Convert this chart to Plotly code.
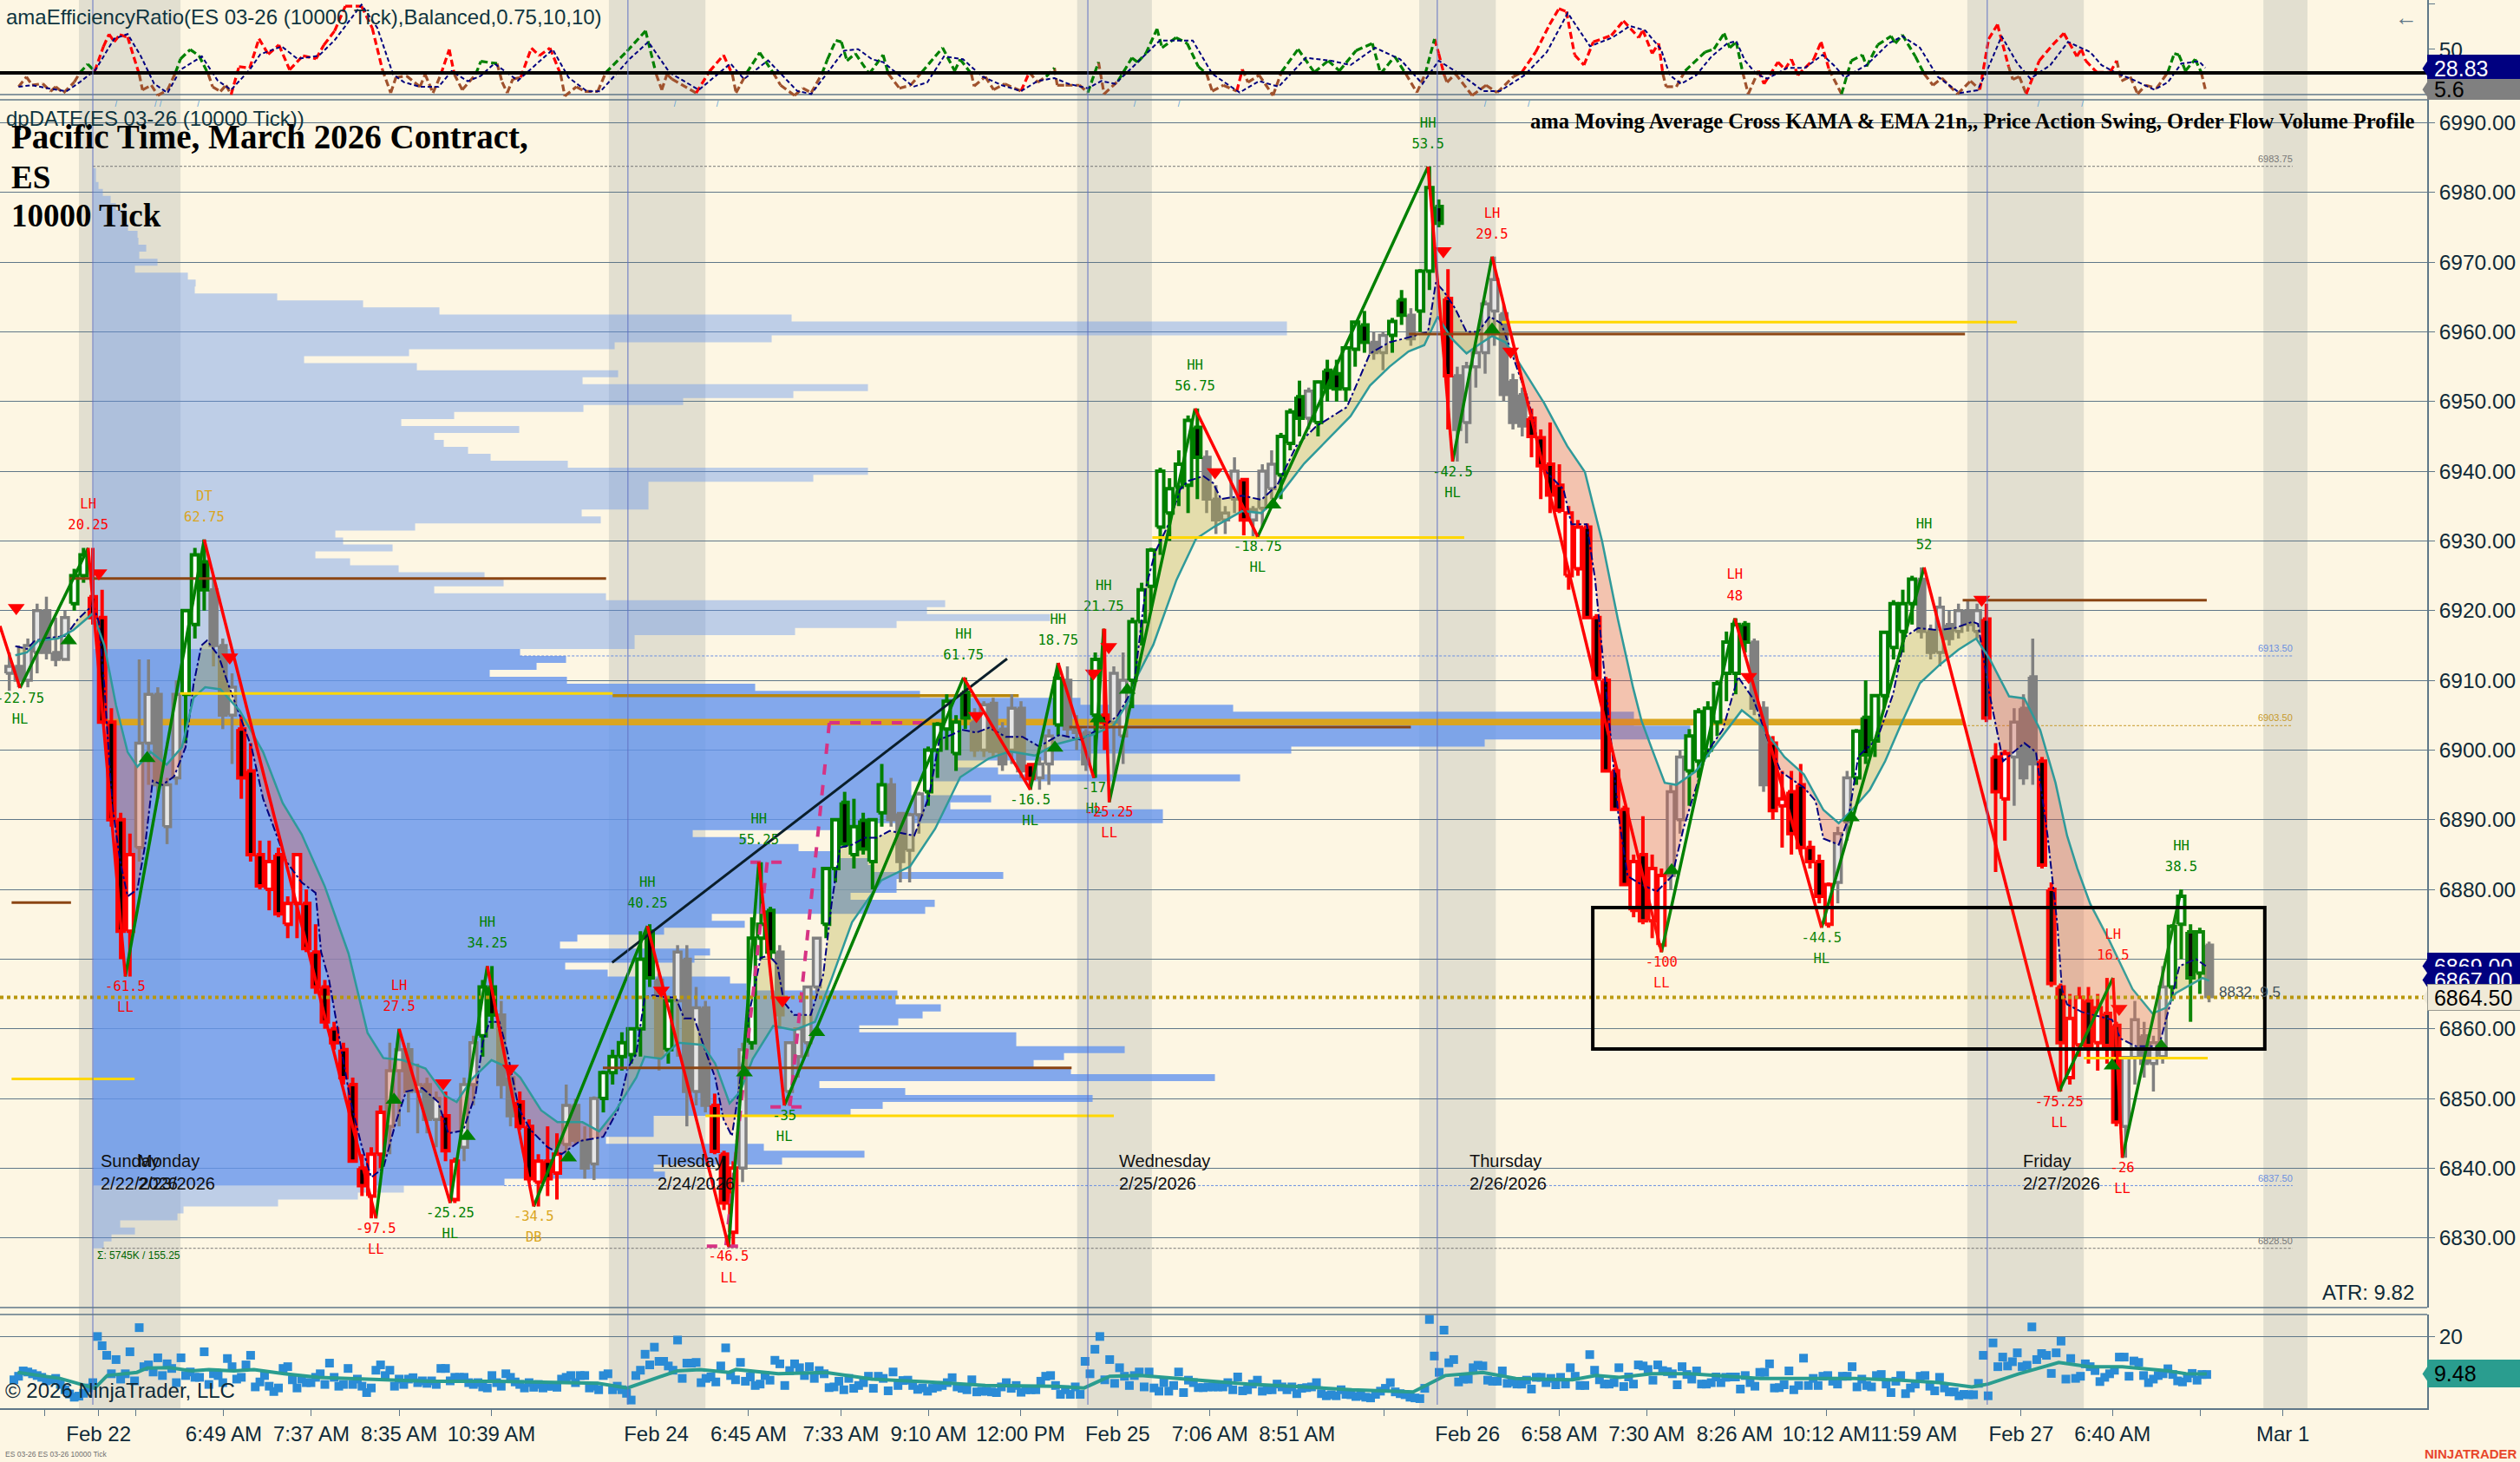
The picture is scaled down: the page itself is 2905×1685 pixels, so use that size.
import numpy as np
import plotly.graph_objects as go

# bar number, open, high, low, close (every second bar)
gray_rows = [
    (2,6911,6914,6908.5,6912),(4,6912,6915,6909,6910),(6,6910,6916,6909,6915),(8,6914,6921,6911,6920),
    (10,6920,6922,6913,6914),(12,6914,6919,6912,6913),(14,6913,6920,6913,6919),
    (30,6886,6913,6884,6901),(32,6901,6913,6895,6908),(34,6908,6909,6893,6895),(36,6889,6896,6886.5,6895),(38,6896,6910,6895,6908),
    (46,6923,6925,6912,6915),(48,6915,6916,6903,6905),(50,6905,6911,6898,6909),
    (84,6846,6858,6842,6854),(86,6854,6860,6846,6857),(88,6857,6858,6848,6851),(90,6851,6855,6845,6852),(92,6852,6853,6845,6847),(94,6847,6851,6843,6850),
    (100,6843,6853,6841,6852),(102,6852,6859,6849,6858),(108,6862,6864,6850,6852),(110,6853,6854,6846,6847.5),
    (122,6843.4,6852,6841,6849),(124,6849,6850,6843.5,6844),(126,6844,6846,6838.5,6840),(128,6840.6,6850.3,6838.3,6850),
    (142,6867,6868,6854,6856),(146,6864,6872,6856,6871),(148,6870,6872,6846,6851),(150,6851,6866,6849,6863),(152,6863,6864,6848,6849),
    (160,6840,6858,6838,6857),(168,6871,6872,6860,6862),(170,6851,6858,6849,6858),(172,6856,6860,6853,6860),(174,6858,6866,6856,6866),(176,6866,6873,6865,6873),
    (192,6895,6896,6889,6890),(194,6890.9,6891,6881,6884),(196,6885.6,6891,6881,6890.7),(198,6890.7,6894,6888,6893.7),
    (210,6904,6906,6899,6900),(212,6900,6907,6899,6906.5),(214,6906.7,6907.5,6899,6899.8),(216,6903,6904,6897,6898),(218,6900,6908,6898,6906),(220,6906,6907,6896,6897),
    (224,6896,6899,6894.3,6898),(226,6898,6903,6895,6902),(230,6910,6912,6902,6903),(232,6903,6905,6900,6902.5),(234,6902.5,6903,6897,6898),
    (240,6904,6912,6896,6911),(242,6902,6914,6898,6910),(260,6942,6943,6934,6936),(262,6936,6938,6931,6933),(264,6933,6935,6931,6934),(266,6936,6942,6934,6940),
    (270,6933,6935,6930.6,6934.5),(272,6934.7,6941,6932,6940),(274,6937.5,6943,6936,6941),(282,6947.6,6952,6946,6951.5),
    (296,6958.5,6960,6956,6957),(298,6957,6960,6954.5,6959.5),(304,6962.4,6963.4,6958,6959),
    (314,6953.7,6955,6941.4,6946),(316,6947,6955.7,6944,6955),(318,6955,6958,6952,6957),(320,6957,6964.5,6954,6964),(322,6963,6970.8,6958,6967.5),
    (324,6962.6,6964,6950,6951),(326,6953,6954,6946,6947),(328,6951,6952,6945,6946.5),
    (360,6882,6895,6880,6894),(362,6890,6900,6888,6899),(378,6915.5,6916,6905,6906),(380,6906,6907,6894,6895),(396,6881,6889,6878,6888),(398,6889.7,6897,6887,6896),
    (414,6924.5,6926.2,6916,6917),(416,6917,6918,6913,6914),(418,6914,6922,6912,6920.5),(420,6918,6920,6915,6916),(422,6917,6921,6916,6920),(424,6920,6921.5,6917,6918),(426,6917,6921,6916,6920),
    (434,6899,6906,6892,6904),(436,6906,6908,6895,6896),(438,6910.5,6916,6895,6898),
    (458,6846,6856,6841.5,6855.9),(460,6855.9,6864,6852,6861.3),(462,6859,6861,6853,6855),(464,6855,6859,6851,6858),(466,6856,6869,6855,6866),(476,6872,6872.5,6863.8,6864.6),
]
green_rows = [
    (16,6921,6926,6920,6925),(18,6925,6929,6924,6928),(40,6908,6920,6901,6920),(42,6918,6929,6916,6928),(44,6927,6930.2,6920,6923),
    (104,6859,6867,6856,6866),(106,6866,6869,6860,6862),
    (130,6850,6854,6848,6853.7),(132,6853.7,6857,6852,6856),(134,6856,6859.5,6854,6858),(136,6856.3,6860,6855,6860),(138,6860,6874,6856,6870),(140,6874,6875,6866,6867.3),(144,6857,6864.7,6855,6864),
    (162,6858,6876,6857,6873),(164,6873,6883.9,6870,6875),(166,6877,6877.5,6870,6871),
    (178,6875,6883,6873,6883),(180,6883,6890,6881,6890),(182,6892.5,6894,6886,6886.5),(184,6885,6893,6883,6889),(186,6889.9,6891,6885,6885.8),(188,6884,6890,6880,6890),(190,6891,6898,6889,6895),
    (200,6894,6900.5,6892,6900),(202,6900,6904,6896,6903.7),(204,6903,6908,6900,6907),(206,6899.5,6905,6897,6904),(208,6908.3,6910.4,6903,6904.6),
    (228,6903.6,6912.5,6902,6910.3),(236,6905,6914,6896,6913),
    (244,6910,6919,6906,6918.4),(246,6918.4,6924,6915,6923),(248,6923.5,6929,6920,6928.7),(250,6932,6940.5,6928,6940),(252,6934,6939,6930,6937.5),(254,6937.7,6943,6935,6941),(256,6938,6948,6934,6947.3),(258,6946.3,6949,6936,6942),
    (276,6939.5,6945.5,6936,6945),(278,6944,6949,6943,6948.5),(280,6950.7,6953,6945,6947.6),(284,6947,6953,6945,6952.8),(286,6954.5,6956,6950,6952),(288,6954,6956,6950,6951.8),
    (290,6951.8,6958,6950,6957.7),(292,6957.5,6961.5,6955,6961.4),(294,6961,6963,6957,6958.5),(300,6959.5,6962,6957,6961.5),(302,6964.6,6966,6961,6962.4),
    (306,6963,6969,6960,6968.7),(308,6968.7,6983.7,6966,6980.7),(310,6978,6979,6975,6975.6),
    (364,6897,6903,6892,6902),(366,6898.4,6906,6896,6905.5),(368,6900,6907,6899,6906),(370,6904,6910,6902,6909.5),(372,6911,6917,6907,6915.5),(374,6911,6918.9,6908,6918),(376,6918,6918.5,6914,6915.5),
    (400,6896,6903,6895,6902.7),(402,6904.7,6910,6898,6899.3),(404,6901.3,6908,6899,6907.8),(406,6907.8,6917,6906,6916.9),(408,6914.7,6921.5,6913,6921),(410,6917,6923,6914,6921),(412,6921,6925,6918,6924.5),
    (468,6866,6875,6864,6874.7),(470,6875,6880,6870,6879),(472,6873.9,6875,6861,6867.3),(474,6868,6874.5,6865,6873.9),
]
red_rows = [
    (20,6922,6929,6918,6919),(22,6919,6923,6904,6904),(24,6904,6906,6889,6890),(26,6890,6891,6870,6874),(28,6874,6888,6867.5,6885),
    (52,6903,6905,6893,6896),(54,6897,6901,6884,6885),(56,6885,6887,6880,6880.5),(58,6880,6887,6877,6884),(60,6885,6886,6876,6876.5),(62,6875,6879,6873,6878),(64,6878,6885,6873,6885),(66,6878,6880,6871,6871.5),
    (68,6871,6875,6865,6866),(70,6866,6867,6860,6861),(72,6860,6861,6857,6858),(74,6857,6858,6852,6853),(76,6852,6853,6841,6841),(78,6840,6842,6836,6837.5),(80,6836,6843,6832.8,6842),(82,6842,6849,6840,6848),
    (96,6847.5,6851,6841,6842.5),(98,6835.5,6841.5,6835,6841),
    (112,6849.5,6851,6845.5,6846),(114,6846,6847,6838,6838.5),(116,6838,6842,6834.5,6841),(118,6841,6846,6836,6838.5),(120,6839.3,6845,6835.5,6842),
    (154,6849,6850.7,6842,6842.4),(156,6842,6842.5,6834,6835),(158,6830.8,6841,6828.75,6840),(222,6897.9,6898,6894.3,6895.9),(238,6905,6917.4,6900,6904),(268,6938.8,6939,6930.8,6933),(312,6964.8,6969,6946,6953.7),
    (330,6947.6,6949,6942,6945),(332,6944.8,6946,6936,6940.8),(334,6941,6947,6934,6936.6),(336,6938,6941,6934,6934.4),(338,6925,6935,6923,6934),(340,6926,6933,6925,6932),(342,6932,6932.5,6919,6919),(344,6919,6919.5,6910.3,6910.3),
    (346,6910,6910.5,6897,6897),(348,6897,6897.5,6891.5,6891.5),(350,6891.5,6892,6880.7,6880.7),(352,6877,6885,6876,6884),(354,6885,6890.5,6875,6875.5),(356,6875.5,6885,6873,6883),(358,6872,6883,6871,6882),
    (382,6901,6902,6890,6891.3),(384,6892,6897,6886,6893),(386,6894,6897,6885,6888),(388,6895,6898,6885,6886),(390,6886,6887,6883,6884),(392,6884,6885,6878,6879),(394,6875,6881,6874.5,6880.7),
    (428,6918.8,6921,6904,6904.6),(430,6899,6901,6882.5,6894),(432,6893,6900,6887,6899.5),
    (440,6898.4,6899,6883,6883.5),(442,6880,6881,6866,6866.5),(444,6866,6866.5,6851,6858),(446,6853,6865,6852,6861.5),(448,6857.7,6866,6856,6864.5),(450,6864,6866,6855,6857.6),(452,6858,6865,6854,6863),(454,6862.2,6867.3,6855,6857.6),(456,6860.5,6861,6846,6846.6),
]

kama_bars = [3.3,5.8,7.5,10.8,14.2,16.7,20,21.3,22.5,24.2,25.9,27.5,29.6,31.3,32.9,35,37.5,40,41.7,43.4,44.6,47.1,49.2,51.7,54.2,56.7,58.4,61.7,65,68,69.2,70.9,72.6,74.2,75.5,78,80,82.6,85.3,87.5,91,94.4,96.6,99.8,102.5,104,105.5,107.6,109.2,111.8,114.3,118,121,125,130,133.1,135.3,137.1,138.9,140.7,143.4,145.6,147.4,149.6,151.9,154.1,155.9,157.7,159,161.3,163.9,165.7,167.5,168.9,171.1,174.7,177.4,179.2,181,183.6,186.3,189,191.7,194.8,197,200.2,202.4,205.1,207.3,210.4,213.1,216.7,220.3,223.9,228.3,232.8,237.3,240.8,243.1,244.3,246.8,248.9,251.8,254.3,256,259.3,261.4,263.1,267.7,271.8,275.2,279.3,283.5,290.2,295.2,299.4,303.5,307.7,309.4,311,313.5,316,318.5,321,323.5,325.6,329.4,332.7,336.9,338.6,341.9,343.7,345.3,347,348.7,350.7,353.7,357,360.3,362.8,367.8,371.2,374.5,377.8,381.2,383.7,388.7,391.2,392.9,396.2,398.3,400.4,404.5,407.9,410.4,413.3,417.5,421.2,425,426.2,428.7,431.6,436.2,438.7,441.2,443.3,444.3,445.4,448.6,455.1,456.9,460.2,465.2,467.4,469.6,473.2,475.3]
kama_values = [6914.9,6914.5,6915.7,6916.1,6916.4,6918.7,6920.8,6918.4,6909,6892,6884,6879,6880,6886.5,6895.6,6895,6896.2,6900.4,6909.4,6915,6915.7,6913.5,6909.4,6905,6900.4,6893,6890,6884,6881,6879.5,6871,6867,6860.6,6854.5,6849.7,6843,6838.7,6840,6846.6,6851,6851.5,6849.5,6845,6845.4,6850.7,6858,6861,6861,6857,6848.5,6845.5,6843,6842,6843.9,6844.5,6848.3,6854.4,6856.4,6864.5,6864.8,6864.5,6864.5,6861.5,6861.5,6857,6853,6847,6844.6,6850.3,6861.8,6870.2,6870.5,6869.2,6863.8,6862,6862,6867.8,6878,6886,6886.4,6887.4,6887.4,6888.4,6888,6887.7,6893.4,6901.5,6902.2,6902.9,6902.5,6903.2,6901.9,6901.9,6900.5,6902.2,6901.5,6903.2,6904.9,6907.6,6909,6923,6928.4,6932.4,6937.4,6938.6,6939.3,6938.3,6936,6936.5,6935.9,6938,6943.6,6946.4,6949.2,6956.9,6958.5,6959.2,6960,6967.1,6965.9,6963.4,6960,6960,6962.2,6961.2,6957.2,6950,6940.2,6937.4,6932.4,6932.4,6924.5,6913.7,6902.3,6890.8,6881.9,6880.7,6879.7,6881.9,6888.9,6899.7,6902.9,6910.5,6907.3,6901,6896.9,6894.6,6892.7,6887.3,6886.4,6890.2,6899.1,6901.6,6908,6916.2,6917.5,6917.2,6917.5,6918.4,6918.1,6908,6898.4,6901,6899.7,6887.7,6875,6865.7,6863.5,6862.4,6861.3,6858.6,6857.5,6857.5,6863,6869,6870,6869]
ema_bars = [3.3,5.8,8.3,12.5,15.8,20,22.5,25,27.5,29.6,32.5,35.9,39.2,41.7,44.2,47.5,51.7,56.7,60.9,65,70,75.1,79.2,82.6,86.7,91.7,95.9,98.4,101.7,105.9,110,112.1,116.6,120.1,125.5,129.1,132.7,137.1,138.9,142.5,146.1,151.4,154.1,157.2,159.5,162.2,166.6,171.1,175.6,179.2,183.6,189.9,196.1,201.5,206.9,213.1,217.6,223,227.4,235.5,239.9,243.1,245.2,248.5,253.5,257.7,261.8,267.7,271.8,276,281,286.9,291,295.2,299.4,303.5,306.9,309.8,312.7,316,318.5,321.5,324.4,326.9,332.7,337.7,341.5,345.2,348.6,351.9,353.7,356.2,358.7,361.2,365.3,370.3,375.3,379.5,384.5,388.7,392.9,396.2,399.1,402.9,406.2,409.5,413.7,417.9,422,425.8,428.7,432.9,436.2,439.6,442.9,445.4,447.6,450.4,454.4,459.5,463.8,466.7,468.8,471.7,474.6,476]
ema_values = [6913.6,6914,6915.7,6916,6917.2,6919.6,6915,6906.4,6899.7,6897.6,6899.7,6897.9,6900.4,6907.5,6909,6908.7,6905.6,6899.7,6892.4,6887.9,6880.4,6870.8,6859.4,6855.8,6855.5,6854.3,6850.4,6849.5,6852.8,6855.5,6854.3,6853,6848.3,6846.6,6846.6,6845.3,6848.3,6853,6856,6855.7,6858,6857.7,6855,6849.3,6851,6855.7,6860.4,6859.8,6861,6867.2,6875.3,6881.3,6883.3,6888.7,6896.1,6898.8,6899.8,6899.2,6900.8,6902.2,6903.5,6906.9,6910.8,6915.1,6924.4,6930.3,6932.1,6934.3,6934,6936.8,6941.1,6945.1,6947.9,6952.3,6955,6957.2,6958.1,6962.2,6959.1,6956.9,6958.1,6959.4,6958.5,6956,6949.8,6943.6,6939.9,6930,6918.8,6908.9,6904.2,6899.7,6895.3,6895,6896.9,6901.3,6905.7,6903.5,6899,6896.5,6891.4,6889.5,6891.4,6894.3,6898.4,6903.5,6909.6,6912.2,6914.4,6916,6913.1,6907.7,6907.4,6902.9,6895.3,6887.7,6883,6877.9,6872.8,6865.7,6862.2,6863,6865.1,6866.2,6867.3,6866.9]

swing_bars = [0,4.3,19,27,44,81,86,97,105,115,139.5,157,163.5,169,207.6,222,228,235.7,237.8,239,257.5,271,307.7,313,321.5,358,373.8,392.5,414.6,443.7,455.3,457.3,470]
swing_prices = [6917.8,6908.9,6929,6867.5,6930.2,6832.8,6860,6835,6869,6834.5,6874.75,6828.75,6883.9,6849,6910.4,6894.3,6912.5,6896,6917.4,6892.5,6949,6930.6,6983.7,6941.4,6970.8,6871,6918.9,6874.5,6926.2,6851,6867.3,6841.5,6880]
swing_tags = ['','HL','LH','LL','DT','LL','LH','HL','HH','DB','HH','LL','HH','HL','HH','HL','HH','HL','HH','LL','HH','HL','HH','HL','LH','LL','LH','HL','HH','LL','LH','LL','HH']
swing_sizes = ['','-22.75','20.25','-61.5','62.75','-97.5','27.5','-25.25','34.25','-34.5','40.25','-46.5','55.25','-35','61.75','-16.5','18.75','-17','21.75','-25.25','56.75','-18.75','53.5','-42.5','29.5','-100','48','-44.5','52','-75.25','16.5','-26','38.5']

down_arrow_bars = [3.5,21.3,49.5,95.5,110,142.5,168.6,210.4,235.6,238.9,261.8,311,325.5,376.8,427,456.6]
down_arrow_prices = [6920.4,6925.4,6913.3,6852.2,6854.3,6865.5,6864.1,6904.9,6911,6914.8,6939.9,6971.6,6957.2,6910.5,6921.6,6862.9]
up_arrow_bars = [14.8,31.7,84.9,100.7,122.5,160.4,176,227.3,236.6,242.9,274.3,321.5,360.2,398.9,455.1,465.7]
up_arrow_prices = [6915.7,6898.8,6849.8,6844.6,6841.5,6853.7,6859.5,6900.3,6904.5,6908.6,6935.2,6960.3,6882.7,6890.3,6854.7,6857.5]

# volume profile, top row 6983 going down one point a row
profile_top = 6983
profile_volume = [3,3,6,11,20,26,37,37,40,51,52,61,53,74,48,109,118,117,212,311,399,805,1376,1376,782,601,364,243,373,605,564,893,807,680,565,416,355,491,393,404,432,458,547,893,830,640,640,640,640,563,585,371,279,288,345,256,296,352,451,473,393,591,982,961,1103,926,809,624,624,
                  492,545,511,457,546,763,953,1138,1314,1776,1776,1841,1841,1604,1381,1138,993,1043,1322,943,943,1035,988,1233,1233,893,691,753,813,853,893,898,1049,926,926,873,970,959,713,751,658,558,538,711,693,544,593,734,753,927,925,977,956,928,883,1064,1064,1189,1119,1084,1127,1293,837,936,1152,910,873,646,646,646,591,773,889,794,646,659,474,
                  358,305,213,104,97,31,48,21,12]

brown_prices = [6924.6,6878.1,6854.4,6903.3,6959.7,6921.5]
brown_from = [15,2.5,129.9,230.4,303.6,422.9]
brown_to = [130.6,15.3,230.9,304,423.4,475.5]
yellow_prices = [6852.8,6908.1,6930.5,6961.4,6847.5,6855.8]
yellow_from = [2.5,38.8,248.3,323.6,152,449]
yellow_to = [29,132,315.5,434.6,240,475.7]

thin_levels = [6983.75,6913.5,6903.5,6837.5,6828.5]
thin_labels = ['6983.75','6913.50','6903.50','6837.50','6828.50']
thin_from = [20,112,423,108.6,22]
thin_colors = ['#777777','#6a8fe0','#c79a2a','#6a8fe0','#777777']

fib_bars = [178.7,198.8,None,178.7,170.2,None,166,173.3,None,161.7,169.3,None,165.3,156.4,None,152.3,159.9]
fib_prices = [6903.9,6903.9,None,6903.9,6848.8,None,6848.8,6848.8,None,6883.9,6883.9,None,6883.9,6828.8,None,6828.8,6828.8]
trend_bars = [131.9,217]
trend_prices = [6869.5,6913.1]

# efficiency ratio panel: bar, value, colour state (g up, r down, b below the line)
er_rows = [
    (4,8.6,'b'),(5.7,19.6,'b'),(6.9,10.4,'b'),(9.2,12.1,'b'),(10.9,3.5,'b'),(12,8.6,'b'),(13.7,1.8,'b'),(16,13.8,'b'),(17.2,24.1,'b'),(18.9,33.7,'g'),(20.4,25.8,'g'),(22.3,53.3,'r'),(23.5,67,'r'),(24.6,58.4,'r'),(25.8,66.3,'r'),(27.5,63.6,'r'),(30,22.4,'r'),(30.7,5.2,'b'),(32.6,10.4,'b'),(34,-1,'b'),(36.1,5.2,'b'),(37.8,24.1,'b'),(38.9,39.6,'g'),(41,49.9,'g'),(42.9,43,'g'),(44.9,22.4,'g'),(45.8,8.6,'b'),(47.5,3.5,'b'),(48.7,10.4,'b'),(49.8,0,'b'),(51.5,31,'r'),(53.8,29.3,'r'),(55.8,61.9,'r'),(57.8,44.7,'r'),(60.1,55,'r'),(62.4,27.5,'r'),(65.3,43,'r'),(68.1,39.6,'r'),(69.8,55,'r'),(72.1,70.5,'r'),(74.4,97.9,'r'),(77.9,97.9,'r'),(80.2,73.9,'r'),(82.4,27.5,'r'),(84.2,1.8,'b'),(85.3,19,'b'),(87.6,20.7,'b'),(90.5,8.6,'b'),(91.6,22.4,'b'),(93.3,1.8,'b'),(95,22.4,'b'),(96.8,49.9,'r'),(97.9,22.4,'r'),(99.6,5.2,'b'),(102.5,22.4,'b'),(103.6,36.8,'g'),(107.1,34.4,'g'),(108.2,13.8,'b'),(109.3,1.8,'b'),(110.5,17.2,'b'),(112.2,19,'b'),(114.5,51.6,'r'),(116.2,43,'r'),(118.5,51.6,'r'),(120.8,22.4,'r'),(121.7,-1.7,'b'),(124.2,8.6,'b'),(126,3.5,'b'),(128.8,3.5,'b'),(130.5,24.1,'b'),(135.1,48.1,'g'),(139.1,70.5,'g'),(141.4,22.4,'g'),(142.6,5.2,'b'),(143.7,22.4,'b'),(144.8,17.2,'b'),(150,1.8,'b'),(152.9,25.8,'r'),(155.9,43.7,'r'),(157.8,22.4,'r'),(158.6,1.8,'b'),(160.9,24.1,'b'),(163.7,46.4,'g'),(166.6,24.1,'g'),(168.2,10.3,'b'),(171.2,-1,'b'),(173,7,'b'),(174.8,2,'b'),(177.1,23,'b'),(178.3,39,'g'),(180.1,60,'g'),(181.3,58.3,'g'),(182.5,37.5,'g'),(184.3,45.5,'g'),(187.3,23,'g'),(190.3,43.9,'g'),(191.4,23,'g'),(193.8,7,'b'),(196.2,10.3,'b'),(198.6,24.7,'b'),(203.1,51.9,'g'),(205.7,26.3,'g'),(206.9,39,'g'),(209.3,23,'g'),(209.9,9.3,'b'),(212.3,19.9,'b'),(214.1,5.4,'b'),(216.5,11.9,'b'),(220,3.8,'b'),(221.8,24.7,'r'),(223.6,13.5,'b'),(225.4,19.9,'b'),(227.2,29.5,'g'),(227.8,10.3,'b'),(229.6,10.3,'b'),(232.6,10.3,'b'),(234.4,2.2,'b'),(236.7,35.9,'g'),(237.9,0.6,'b'),(240.9,15,'b'),(243.9,40.7,'g'),(245.1,35.9,'g'),(246.9,45.5,'g'),(249.3,72.7,'g'),(250.4,51.9,'g'),(253.4,63.1,'g'),(255.8,56.7,'g'),(258.2,31.1,'g'),(260,23,'g'),(261.2,3.8,'b'),(263.6,10.3,'b'),(266.5,3.8,'b'),(267.7,27.9,'r'),(268.9,13.5,'b'),(271.3,21.5,'b'),(274.3,-1,'b'),(276.1,24.7,'b'),(279.7,50.3,'g'),(283.2,24.7,'g'),(286.2,37.5,'g'),(288.6,26.3,'g'),(292.2,48.7,'g'),(295.7,56.7,'g'),(297.5,23,'g'),(300.5,42.3,'g'),(302.9,23,'g'),(305.3,2.2,'b'),(307.1,23,'b'),(309.1,61.5,'g'),(310,45.5,'r'),(311.2,21.5,'r'),(311.8,13.5,'b'),(313.6,23,'b'),(317.2,-1,'b'),(320.2,10.3,'b'),(322.6,2.2,'b'),(326.1,19.9,'b'),(327.9,24.7,'b'),(330.9,47.1,'r'),(333.9,77.6,'r'),(335.9,95.2,'r'),(337.5,92,'r'),(339.3,43.9,'r'),(341.3,32.7,'r'),(343.3,58.3,'r'),(347.2,65.5,'r'),(349.8,81.7,'r'),(353.1,63.1,'r'),(354,71.2,'r'),(356,45.5,'r'),(357.4,56.7,'r'),(358.3,23,'r'),(359,8.7,'b'),(361.2,8.7,'b'),(363.1,26.3,'b'),(367.4,47.1,'g'),(369.3,50.3,'g'),(371.5,67.9,'g'),(372.7,51.9,'g'),(374.1,58.3,'g'),(375.5,24.7,'g'),(376.7,0.6,'b'),(378.9,26.3,'b'),(380.1,11.9,'r'),(383.1,35.9,'r'),(384.6,27.9,'r'),(386,39.1,'r'),(387.4,21.5,'r'),(390.8,39.1,'r'),(392.4,58.3,'r'),(394.1,27.9,'r'),(396.8,0.6,'b'),(398.9,37.5,'g'),(401.3,43.9,'g'),(402.2,31.1,'g'),(404.6,55.1,'g'),(407.5,64.7,'g'),(408.4,56.7,'g'),(409.9,66.3,'g'),(412.7,42.3,'g'),(414.6,23,'g'),(416.5,10.3,'b'),(418.4,18.3,'b'),(421.8,0.6,'b'),(424.6,15,'b'),(426.6,5.4,'b'),(428.5,61.5,'r'),(430.4,77.6,'r'),(432.8,31.1,'r'),(433.7,16.7,'b'),(435.1,19.9,'b'),(436.6,0.6,'b'),(439.4,37.5,'r'),(442.3,55.1,'r'),(444.7,67.9,'r'),(447.5,42.3,'r'),(448.5,50.3,'r'),(449.4,37.5,'r'),(451.8,24.7,'r'),(454.7,24.7,'r'),(456.1,37.5,'r'),(457.1,15,'b'),(459,19.9,'b'),(460.6,0.6,'b'),(462.3,10.3,'b'),(464.7,7,'b'),(467.1,24.7,'b'),(468.5,45.5,'g'),(469.5,43.9,'g'),(470.9,26.3,'g'),(473,39.1,'g'),(474.3,24.7,'g'),(475.2,5.4,'b'),
]
er_slow_bars = [4,6.9,10.3,14.3,17.2,20.6,24.6,27.5,30.3,33.2,36.1,38.9,43.5,46.9,49.8,53.8,56.1,60.7,64.1,68.7,72.1,77.9,81.3,84.7,87,90.5,94.5,97.3,100.8,103.6,106.5,111.6,119.1,122.5,126.5,129.4,135.7,139.7,144.3,150.6,157.4,160.3,165.5,171.8,174.8,178.3,181.9,184.9,187.9,190.3,192.6,196.8,199.8,203.4,207.5,211.7,215.9,220,223.6,227.2,230.2,234.4,237.3,240.3,244.5,249.9,257,261.2,267.1,271.3,275.5,281.4,286.8,291,296.3,301.7,306.5,310,315.4,319.6,323.2,328.5,333.3,337.8,342.6,347.4,351.2,354.5,357.9,359.8,362.2,365.5,368.8,372.2,374.1,376,378.4,380.8,385.1,388.9,392.7,395.1,397.5,402.2,407,409.9,413.7,417.5,422.3,426.1,428,431.3,434.7,437.5,441.8,445.6,450.4,452.8,455.7,459.5,464.2,467.1,470,473.8,475.2]
er_slow_values = [8.6,10.4,7,3.5,13.8,27.5,61.9,67,43,12.1,1.8,27.5,42.3,15.5,5.2,27.5,44.7,53.3,39.6,43,60.2,99.6,73.9,22.4,13.8,8.6,8.6,25.8,14.8,20.7,34.4,15.5,49.9,19,3.5,3.5,39.6,58.4,24.1,5.2,34.4,17.2,37.8,3.9,0.6,24.7,48.7,50.3,39.1,35.9,26.3,8.7,13.5,42.3,39.1,19.9,10.3,3.8,15,18.3,11.9,7,15,11.9,32.7,59.9,59.9,23,2.2,15,8.7,40.7,37.5,32.7,51.9,39.1,11.9,37.5,19.9,3.8,3.8,21.5,47.1,90.4,53.5,63.1,76,71.1,50.3,21.5,11.9,21.5,42.3,56.7,59.3,37.5,23,17.6,29.5,29.5,43.9,32.7,18.9,32.7,56.7,64.7,51.9,19.9,1.6,4.8,24.7,64.7,34.3,17.6,32.7,58.3,47.1,32.7,24.7,16.7,5.4,13.5,34.3,36.9,29.5]
er_threshold = 24
er_floor = 0

# ATR dots, one a bar; each block gives the bars it runs between
atr_span_a = (3, 149)
atr_a = [7.8,8.8,10.3,10,9.5,9,8.5,7.5,7.8,8.2,6.5,5,3.8,2.9,3.2,4,5.5,7,20,17.4,14.7,9.5,13.5,8,9.5,15.7,7.5,22.5,11.5,12,10,14,9,12.3,11,7,14,9,10,8.5,8.5,15.7,6.5,9.5,9,7,13.8,11.5,8,8.5,12,14.7,5.8,7.2,9,6,4.5,5.5,11,11.5,7.8,5.5,8,7,7,8.5,9.5,6.5,12.5,8.5,6,6.5,11,6.5,8,6,4.2,5.5,10.5,12,9,10.5,6,8,6.5,8,8.4,7,7.5,6.8,7.5,6.5,11,11,7.5,8.5,8.5,8.5,7,6.5,7,5.8,5.5,9,7,6,9.5,8.5,7.2,6.5,5.5,7,5.7,6.5,5.5,6,6,5.7,8,8.5,9,7,9,9,5.5,6,5,9,9.5,5,6,5,4,2.1,9,10.5,15,12,17,13,13,11.7,10.5,19,8.2,12.5,12.5]
atr_span_b = (150, 307)
atr_b = [12.7,7,8.2,8.6,7.2,11.7,16.8,9,7.8,12.7,7.4,8.6,6.2,6.6,9,7.7,13.3,12.3,6.2,10.4,12.3,11.2,9,11.5,8.2,10.4,9.5,5.6,5.8,7.4,5,8.2,5.4,6.2,7,8.8,5.4,8.8,8.2,4.7,10,6.2,7.6,7.7,6.2,5.1,5.5,4.6,5.4,5.8,6.2,7,8.4,5.8,5.4,5,7.8,4.4,4.6,4.6,4.4,4.2,5.8,7,5.4,6.2,4.3,5,5,5,7.4,8.8,9,6.2,3.7,5,3.7,5.8,3.7,13,9.5,16.4,20,7.8,13.5,6.8,11.2,8.8,6.2,9,10,5.8,10,5.5,4.6,7,4.6,6.2,10,4.2,7.7,7,5.6,5.6,5.8,5.8,5.8,5.8,7,5,8.6,4.7,5,6.6,7.7,4.6,5,5,6.6,5.8,5,5.8,3.9,5.4,5.6,5.8,7,3.9,3.3,3.6,3.3,5,3.7,3.6,3.1,3.3,2.9,2.7,3.7,4.6,5.4,7,4.4,3.9,3.6,2.9,2.7,2.5,5.4]
atr_span_c = (308, 475.5)
atr_c = [24.8,14.5,9.9,21.8,12.6,13.5,7.2,8,8,11.2,11.9,11.7,7.7,7.4,7.4,10.3,6.8,7.2,6.6,6.6,7.7,5.2,8.5,8.5,7,8.2,6.4,8.5,6.6,11.2,8.8,6.2,6.2,14.9,10.5,7.8,6.6,6.6,7,11.2,5.9,8.6,6.6,12,11.7,10.7,7.7,12,10.4,10.1,9.5,6.4,11.5,9.3,8,10.3,6.6,6.6,7,8.6,7,8.5,8.6,8.6,5.2,9,7,6,9.9,9.9,12.3,5.5,5.6,6.4,10.3,5,6.2,13.9,6.2,8.2,6.2,8.8,9,7.4,6.6,8.8,8.8,11.5,5.8,8,6.2,5.8,9,9.3,6.6,4.2,7.4,9,3.9,5.5,6.6,8.8,9,6,4.7,8.5,5.5,4.4,4.4,3.3,3.7,3.6,3.6,6.8,14.7,3.3,18.2,11.5,14.2,11.7,12.9,15.4,11.5,11.9,22.7,13.5,15.2,14.7,9.6,15.4,18.7,8,13.8,8.2,8.8,12.3,11.5,10.4,7.3,8.5,9.5,10.5,14.2,14.2,8.8,13.1,12.7,9,7,8,9,9.5,10.9,9.3,7.5,7.2,8.3,9.6,7.7,9.3,9.3]
atr_avg_bars = [3.8,8.6,12.9,17.2,20.4,23.1,26.8,29.5,31.7,36.5,41.3,45,50.4,54.7,61.2,68.7,75.1,83.7,92.3,107.3,118,128.8,135.2,139.5,145.9,150.8,157.1,158.6,167.7,177.9,188,200.1,212.3,227.5,233.6,239.1,245.7,253.8,269,281.2,291.3,304.5,308.3,311.4,319.5,326.6,338.8,343.9,348.9,356,364.1,379.3,389.4,399.6,409.7,417.8,424.9,428.4,435,443.6,450.2,457.3,466.7,471,475.5]
atr_avg_values = [9.9,9,8.2,6.6,5.4,9,9.6,9.9,11.1,11.2,10.3,10.7,10.3,10.7,9.5,8.5,8.2,7.8,7.4,7.4,7,6.8,5.5,7.4,10.3,10.7,9.9,10.7,9.5,9.9,8,7.2,6.2,6,5.5,8.8,9,8.2,6.6,5.8,5,4.4,7,9,9.9,8.2,7.8,9,8.5,9.5,9.5,8.2,8.2,8.2,7.7,7,5.8,6.6,9.5,12.7,11.5,11.5,10.4,9.5,9.48]

session_from = [17,131.2,232.1,305.8,423.9,487.7]
session_to = [38.9,152,248.2,322.3,449,497.2]
session_lines = [20,135.3,234.4,309.7,428.2]
box_bars = [343.2,488]
box_prices = [6857.1,6877.4]
tick_marks = [25,33.5,34.6,42.7,145.4,154.6,244.5,254,320,329.4,439.2,448.7]

x_ticks = [9.7,21.25,29.3,48.2,67.1,86,105.9,141.4,161.3,181.2,200.1,219.9,240.8,260.7,279.5,298.3,316.2,336,354.8,373.8,393.5,412.4,435.5,455.2,474.1,491.9]
x_labels = ['','Feb 22','','6:49 AM','7:37 AM','8:35 AM','10:39 AM','Feb 24','6:45 AM','7:33 AM','9:10 AM','12:00 PM','Feb 25','7:06 AM','8:51 AM','','Feb 26','6:58 AM','7:30 AM','8:26 AM','10:12 AM','11:59 AM','Feb 27','6:40 AM','','Mar 1']
price_ticks = list(range(6830, 7000, 10))
day_names = ['Sunday','Monday','Tuesday','Wednesday','Thursday','Friday']
day_dates = ['2/22/2026','2/23/2026','2/24/2026','2/25/2026','2/26/2026','2/27/2026']
day_bars = [21.25,29.3,141.4,240.8,316.2,435.5]

W, H = 2905, 1685
BAR_PX = 5.35
CANDLE_HALF = 0.75
CREAM = '#fdf6e3'
SLATE = '#5f7788'
INK = '#0f2a38'
SANS = 'Liberation Sans'
SERIF = 'Liberation Serif'
MONO = 'DejaVu Sans Mono'


def px_y(y):
    return 1 - y / H


def gaps(starts, ends, values):
    xs, ys = [], []
    for a, b, v in zip(starts, ends, values):
        xs += [a, b, None]
        ys += [v, v, None]
    return xs, ys


def line(x, y, color, width, dash='solid', yaxis='y'):
    return go.Scatter(x=x, y=y, mode='lines', yaxis=yaxis, hoverinfo='skip', showlegend=False,
                      connectgaps=False, line=dict(color=color, width=width, dash=dash))


def candles(rows, color, up_fill, down_fill, width):
    # scatter outlines rather than go.Candlestick: plotly always stacks box traces under
    # scatter fills, and the ribbon has to sit between gray and coloured candles
    wick_x, wick_y = [], []
    for b, o, h, l, c in rows:
        wick_x += [b, b, None]
        wick_y += [l, h, None]
    fig.add_trace(line(wick_x, wick_y, color, width))
    for rising, fill in ((True, up_fill), (False, down_fill)):
        xs, ys = [], []
        for b, o, h, l, c in rows:
            if (c >= o) == rising:
                xs += [b - CANDLE_HALF, b + CANDLE_HALF, b + CANDLE_HALF, b - CANDLE_HALF, b - CANDLE_HALF, None]
                ys += [o, o, c, c, o, None]
        fig.add_trace(go.Scatter(x=xs, y=ys, mode='lines', fill='toself', fillcolor=fill, hoverinfo='skip',
                                 showlegend=False, line=dict(color=color, width=width)))


def profile_outline(rows, base=20.1):
    # one stepped outline so neighbouring rows do not leave seams
    xs, ys = [], []
    for i, (p, v) in enumerate(rows):
        if i == 0 or rows[i - 1][0] != p + 1:
            if xs:
                xs += [base, None]
                ys += [ys[-1], None]
            xs.append(base)
            ys.append(p + 0.5)
        xs += [base + v / BAR_PX, base + v / BAR_PX]
        ys += [p + 0.5, p - 0.5]
    xs.append(base)
    ys.append(ys[-1])
    return xs, ys


fig = go.Figure()

# volume profile
levels = [profile_top - i for i in range(len(profile_volume))]
inside = [(p, v) for p, v in zip(levels, profile_volume) if 6838 <= p <= 6914]
outside = [(p, v) for p, v in zip(levels, profile_volume) if not 6838 <= p <= 6914]
for rows, alpha in ((outside, 0.41), (inside, 0.8)):
    xs, ys = profile_outline(rows)
    fig.add_trace(go.Scatter(x=xs, y=ys, mode='lines', fill='toself', fillcolor=f'rgba(100,149,237,{alpha})',
                             line=dict(width=0), hoverinfo='skip', showlegend=False))

# thin reference levels
for p, start, color in zip(thin_levels, thin_from, thin_colors):
    fig.add_trace(line([start, 494], [p, p], color, 1, '3px,2px'))
fig.add_trace(line([22.4, 423], [6904, 6904], '#daa520', 7.5))
fig.add_trace(line([132, 219.5], [6907.8, 6907.8], '#b8860b', 3.5))

candles(gray_rows, '#808080', '#e6e6e6', '#808080', 3.5)

# ribbon between the two averages
grid = np.arange(4, 476, 0.5)
kama_line = np.interp(grid, kama_bars, kama_values)
ema_line = np.interp(grid, ema_bars, ema_values)
for sign, color in ((1, 'rgba(178,170,60,0.33)'), (-1, 'rgba(226,90,70,0.33)')):
    xs, ys = [], []
    above = sign * (kama_line - ema_line) > 0
    i = 0
    while i < len(grid):
        if above[i]:
            j = i
            while j + 1 < len(grid) and above[j + 1]:
                j += 1
            xs += list(grid[i:j + 1]) + list(grid[i:j + 1][::-1]) + [None]
            ys += list(kama_line[i:j + 1]) + list(ema_line[i:j + 1][::-1]) + [None]
            i = j + 1
        else:
            i += 1
    fig.add_trace(go.Scatter(x=xs, y=ys, mode='lines', fill='toself', fillcolor=color, line=dict(width=0),
                             hoverinfo='skip', showlegend=False))

candles(green_rows, '#008000', '#ffffff', '#000000', 4)
candles(red_rows, '#ff0000', '#ffffff', '#000000', 4)

fig.add_trace(line(kama_bars, kama_values, '#00007f', 2, 'dashdot'))
fig.add_trace(line(ema_bars, ema_values, '#2f9a9a', 2.5))

# price levels
xs, ys = gaps(brown_from, brown_to, brown_prices)
fig.add_trace(line(xs, ys, '#8b4513', 3))
xs, ys = gaps(yellow_from, yellow_to, yellow_prices)
fig.add_trace(line(xs, ys, '#ffd700', 3))
fig.add_trace(line(fib_bars, fib_prices, '#d63384', 4, 'dash'))
fig.add_trace(line(trend_bars, trend_prices, '#0a1e2a', 3))
fig.add_trace(line([0, 523], [6864.5, 6864.5], '#b8960c', 4, 'dot'))

# swing lines, green going up and red going down
for up, color in ((True, '#008000'), (False, '#ff0000')):
    xs, ys = [], []
    for i in range(len(swing_bars) - 1):
        if (swing_prices[i + 1] > swing_prices[i]) == up:
            xs += [swing_bars[i], swing_bars[i + 1], None]
            ys += [swing_prices[i], swing_prices[i + 1], None]
    fig.add_trace(line(xs, ys, color, 3.5))

fig.add_trace(go.Scatter(x=down_arrow_bars, y=down_arrow_prices, mode='markers', hoverinfo='skip', showlegend=False,
                         marker=dict(symbol='triangle-down', size=17, color='#ff0000')))
fig.add_trace(go.Scatter(x=up_arrow_bars, y=up_arrow_prices, mode='markers', hoverinfo='skip', showlegend=False,
                         marker=dict(symbol='triangle-up', size=17, color='#008000')))

# swing labels
tag_colors = {'HH': '#008000', 'HL': '#008000', 'LH': '#ff0000', 'LL': '#ff0000', 'DT': '#daa520', 'DB': '#daa520'}
lab_x, lab_y, lab_t, lab_c = [], [], [], []
for b, p, tag, size in zip(swing_bars, swing_prices, swing_tags, swing_sizes):
    if not tag:
        continue
    high = tag in ('HH', 'LH', 'DT')
    lab_x += [b, b]
    lab_y += [p + 6.1, p + 3.1] if high else [p - 4.6, p - 1.6]
    lab_t += [tag, size]
    lab_c += [tag_colors[tag]] * 2
fig.add_trace(go.Scatter(x=lab_x, y=lab_y, text=lab_t, mode='text', hoverinfo='skip', showlegend=False,
                         textfont=dict(family=MONO, size=15.5, color=lab_c)))
fig.add_trace(go.Scatter(x=tick_marks, y=[6992.6] * len(tick_marks), text=['/'] * len(tick_marks), mode='text',
                         hoverinfo='skip', showlegend=False, textfont=dict(family=SANS, size=9, color='#4f9ad6')))

# efficiency ratio panel
er_bars, er_values, er_states = zip(*er_rows)
fig.add_trace(line([0, 523], [er_floor, er_floor], SLATE, 1.5, yaxis='y2'))
for state, color in (('b', '#a0522d'), ('r', '#ff0000'), ('g', '#008000')):
    xs, ys = [], []
    for i in range(1, len(er_bars)):
        if er_states[i] == state:
            xs += [er_bars[i - 1], er_bars[i], None]
            ys += [er_values[i - 1], er_values[i], None]
    fig.add_trace(line(xs, ys, color, 3.2, '8px,4px', yaxis='y2'))
fig.add_trace(line(er_slow_bars, er_slow_values, '#00007f', 2, '5px,3px', yaxis='y2'))
fig.add_trace(line([0, 523], [er_threshold, er_threshold], '#000000', 4, yaxis='y2'))

# ATR panel
for span, values in ((atr_span_a, atr_a), (atr_span_b, atr_b), (atr_span_c, atr_c)):
    fig.add_trace(go.Scatter(x=np.linspace(span[0], span[1], len(values)), y=values, mode='markers', yaxis='y3',
                             hoverinfo='skip', showlegend=False,
                             marker=dict(symbol='square', size=10, color='#2a8bd6')))
fig.add_trace(line(atr_avg_bars, atr_avg_values, '#2a9d8f', 4, yaxis='y3'))

# session bands and separators
shapes = []
for a, b in zip(session_from, session_to):
    shapes.append(dict(type='rect', xref='x', yref='paper', x0=a, x1=b, y0=px_y(1623), y1=1, layer='below',
                       fillcolor='#e2dfd0', line=dict(width=0)))
for b in session_lines:
    shapes.append(dict(type='line', xref='x', yref='paper', x0=b, x1=b, y0=px_y(1619), y1=1, layer='above',
                       line=dict(color='#6272c4', width=1)))
for y in (115, 1507, 1515):
    shapes.append(dict(type='line', xref='paper', yref='paper', x0=0, x1=2798 / W, y0=px_y(y), y1=px_y(y),
                       line=dict(color=SLATE, width=1.5)))
shapes.append(dict(type='rect', xref='x', yref='y', x0=box_bars[0], x1=box_bars[1], y0=box_prices[0], y1=box_prices[1],
                   layer='above', fillcolor='rgba(255,236,139,0.06)', line=dict(color='#000000', width=4)))

notes = []


def note(text, x, y, size, color=INK, family=SANS, anchor='left'):
    notes.append(dict(text=text, xref='paper', yref='paper', x=x / W, y=px_y(y), xanchor=anchor, yanchor='middle',
                      showarrow=False, font=dict(family=family, size=size, color=color)))


note('amaEfficiencyRatio(ES 03-26 (10000 Tick),Balanced,0.75,10,10)', 5, 20, 24, '#0f3540')
note('dpDATE(ES 03-26 (10000 Tick))', 5, 136, 24, '#0f3540')
note('<b>Pacific Time, March 2026 Contract,</b>', 11, 158, 39, '#000000', SERIF)
note('<b>ES</b>', 11, 204, 37, '#000000', SERIF)
note('<b>10000 Tick</b>', 11, 249, 37, '#000000', SERIF)
note('<b>ama Moving Average Cross KAMA &amp; EMA 21n,, Price Action Swing, Order Flow Volume Profile</b>', 2785, 140, 24.6,
     '#000000', SERIF, 'right')
note('ATR: 9.82', 2785, 1489, 24, INK, SANS, 'right')
note('\u00a9 2026 NinjaTrader, LLC', 4, 1602, 24)
note('ES 03-26 ES 03-26 10000 Tick', 4, 1676, 8.5, '#6f6f6f')
note('<b>NINJATRADER</b>', 2904, 1675, 15, '#e8472a', SANS, 'right')
note('\u2190', 2774, 20, 26, '#5f7788', SANS, 'center')
note('\u03a3: 5745K / 155.25', 110, 1447, 12, '#006400')
note('8832, 9.5', 2556, 1143, 17, '#40505a')

for name, date, b in zip(day_names, day_dates, day_bars):
    notes.append(dict(text=f'{name}<br>{date}', xref='x', yref='y', x=b, y=6839.4, xanchor='left', yanchor='middle',
                      align='left', showarrow=False, font=dict(family=SANS, size=20, color='#101010')))
for p, label, color in zip(thin_levels, thin_labels, thin_colors):
    notes.append(dict(text=label, xref='x', yref='y', x=490.3, y=p + 1.1, xanchor='center', yanchor='middle',
                      showarrow=False, font=dict(family=SANS, size=11, color=color)))


def value_tag(text, axis, value, height, fill, color, half, border=None):
    # pointer on the axis, box with the current value
    shapes.append(dict(type='path', xref='paper', yref=axis, layer='above', fillcolor=fill, line=dict(width=0),
                       path=f'M {2798 / W},{value + half} L {2792.5 / W},{value} L {2798 / W},{value - half} Z'))
    notes.append(dict(text='\u00a0' + text, xref='paper', yref=axis, x=2798 / W, y=value, xanchor='left', yanchor='middle',
                      width=106, height=height, align='left', bgcolor=fill, borderpad=0, showarrow=False,
                      bordercolor=border or fill, borderwidth=1,
                      font=dict(family=SANS, size=25, color=color)))


value_tag('28.83', 'y2', 28.83, 30, '#000080', '#ffffff', 8)
value_tag('5.6', 'y2', 5.6, 22, '#808080', '#000000', 8)
value_tag('6869.00', 'y', 6869, 29, '#000080', '#ffffff', 1)
value_tag('6867.00', 'y', 6867, 29, '#000080', '#ffffff', 1)
value_tag('6864.50', 'y', 6864.5, 29, '#f0ead8', '#000000', 1, '#9a9a90')
value_tag('9.48', 'y3', 9.48, 30, '#2a9d8f', '#000000', 2)

fig.update_layout(
    width=W, height=H, margin=dict(l=0, r=0, t=0, b=0), paper_bgcolor=CREAM, plot_bgcolor=CREAM,
    showlegend=False, shapes=shapes, annotations=notes, dragmode=False,
    font=dict(family=SANS, size=24, color=INK),
    xaxis=dict(domain=[0, 2798 / W], range=[0, 2798 / BAR_PX], anchor='y3', showgrid=False, zeroline=False,
               showline=True, linecolor=SLATE, linewidth=1.5,
               tickmode='array', tickvals=x_ticks, ticktext=x_labels, ticks='outside', ticklen=7, tickcolor=SLATE,
               tickfont=dict(family=SANS, size=24, color=INK), tickangle=0),
    yaxis=dict(domain=[px_y(1507), px_y(115)], range=[6820.0, 6993.3], side='right', anchor='x', showline=True,
               linecolor=SLATE, linewidth=1.5, gridcolor=SLATE, gridwidth=1.2, zeroline=False,
               tickmode='array', tickvals=price_ticks,
               ticktext=['' if p == 6870 else f'{p}.00' for p in price_ticks],
               ticks='outside', ticklen=7, tickcolor=SLATE, tickfont=dict(family=SANS, size=24.5, color=INK)),
    yaxis2=dict(domain=[px_y(115), 1], range=[-5.8, 104.8], side='right', anchor='x', showline=True, linecolor=SLATE,
                linewidth=1.5, showgrid=False, zeroline=False, tickmode='array', tickvals=[50, 100], ticktext=['50', ''],
                ticks='outside', ticklen=7, tickcolor=SLATE, tickfont=dict(family=SANS, size=24.5, color=INK)),
    yaxis3=dict(domain=[px_y(1623), px_y(1515)], range=[-0.2, 26.2], side='right', anchor='x', showline=True,
                linecolor=SLATE, linewidth=1.5, gridcolor=SLATE, gridwidth=1.2, zeroline=False,
                tickmode='array', tickvals=[20], ticktext=['20'], ticks='outside', ticklen=7, tickcolor=SLATE,
                tickfont=dict(family=SANS, size=24.5, color=INK)),
)

fig.write_html("out.html", config={'displayModeBar': False},
               post_script="document.body.style.margin='0';document.body.style.background='#fdf6e3';")
